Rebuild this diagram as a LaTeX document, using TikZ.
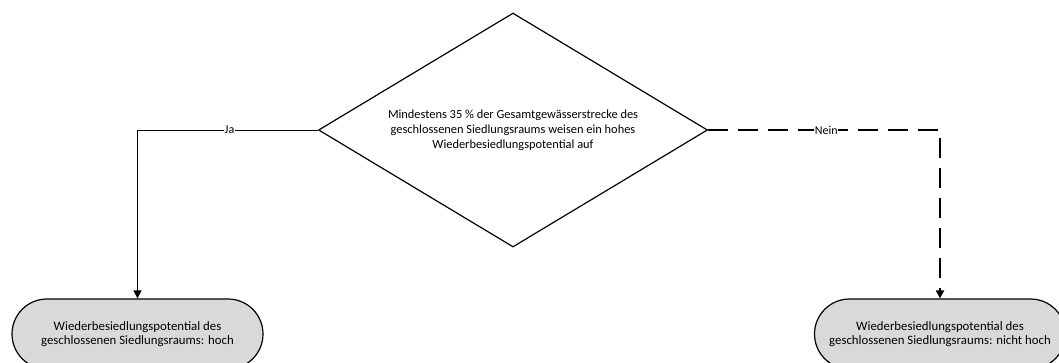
\documentclass[tikz,border=0pt]{standalone}
\usepackage{fontspec}
\setmainfont{Carlito}
\usetikzlibrary{shapes.geometric, shapes.misc, arrows.meta}
\tikzset{
  frage/.style={diamond, draw, line width=0.9pt, inner sep=0pt, align=center, aspect=1.66,
    minimum width=291.75pt, minimum height=175.5pt, font=\fontsize{9.3}{11.2}\selectfont},
  ende/.style={rounded rectangle, draw, line width=0.9pt, fill=black!15, align=center,
    minimum width=188.25pt, minimum height=52.5pt, inner sep=0pt, font=\fontsize{9.6}{10.8}\selectfont},
  marke/.style={fill=white, inner sep=0.5pt, font=\fontsize{9}{10}\selectfont}
}
\begin{document}
\begin{tikzpicture}[>={Triangle[length=6pt,width=6pt]}, x=0.75pt, y=-0.75pt]
\useasboundingbox (0,0) rectangle (1059,362);
\node[frage] (q) at (513,130) {Mindestens 35 \% der Gesamtgewässerstrecke des\\geschlossenen Siedlungsraums weisen ein hohes\\Wiederbesiedlungspotential auf};
\node[ende] (hoch) at (137.5,334) {Wiederbesiedlungspotential des\\geschlossenen Siedlungsraums: hoch};
\node[ende] (nicht) at (940,334) {Wiederbesiedlungspotential des\\geschlossenen Siedlungsraums: nicht hoch};
% Ja / Nein
\draw[->, line width=0.7pt] (q.west) -| node[marke, pos=0.245] {Ja} (hoch.north);
\draw[->, line width=1.4pt, dash pattern=on 15pt off 7.5pt] (q.east) -| node[marke, pos=0.255] {Nein} (nicht.north);
\end{tikzpicture}
\end{document}
